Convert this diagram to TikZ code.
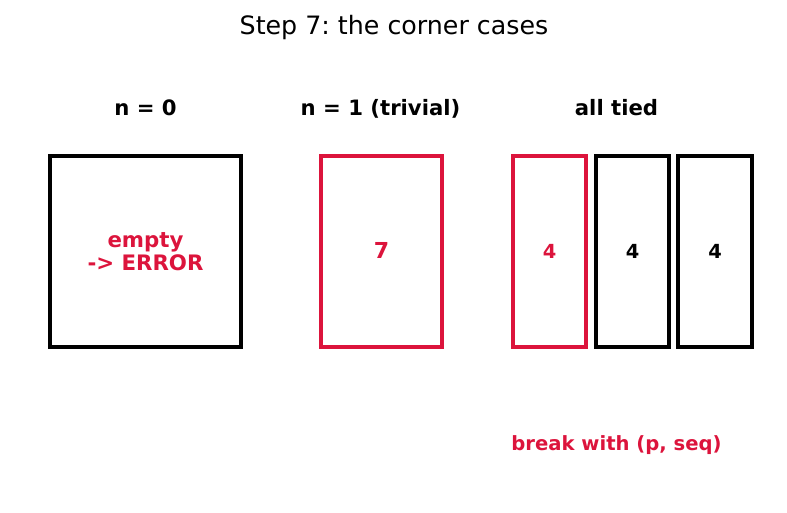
\documentclass[tikz,border=0pt]{standalone}
\usepackage{fontspec}
\setmainfont{DejaVu Sans}
\frenchspacing
\definecolor{crim}{RGB}{220,20,60}
\begin{document}
\begin{tikzpicture}[x=1pt,y=-1pt,
  box/.style={draw=black,line width=4.8pt,inner sep=0pt,minimum height=191pt,font=\fontsize{21.3}{23}\selectfont\bfseries},
  redbox/.style={box,draw=crim,text=crim},
  lbl/.style={anchor=base,inner sep=0pt,font=\fontsize{21.2}{25}\selectfont\bfseries},
  seven/.style={font=\fontsize{22}{24}\selectfont\bfseries},
  four/.style={font=\fontsize{19.4}{22}\selectfont\bfseries}]
\useasboundingbox (0,0) rectangle (787,512);
\node[anchor=base,inner sep=0pt,font=\fontsize{25.3}{30}\selectfont] (title) at (394,34) {Step 7: the corner cases};
\node[lbl] (l0) at (145.5,115) {n = 0};
\node[lbl] (l1) at (380.5,115) {n = 1 (trivial)};
\node[lbl] (l2) at (616.5,115) {all tied};
\node[box,minimum width=191pt,text=crim,align=center] (b0) at (145.5,251.5) {empty\\-> ERROR};
\node[redbox,minimum width=121pt,seven] (b1) at (381.5,251.5) {\raisebox{1.5pt}{7}};
\node[redbox,minimum width=73pt,four] (b2) at (549.5,251.5) {\raisebox{1pt}{4}};
\node[box,minimum width=73pt,four] (b3) at (632.5,251.5) {\raisebox{1pt}{4}};
\node[box,minimum width=74pt,four] (b4) at (715,251.5) {\raisebox{1pt}{4}};
\node[anchor=base,inner sep=0pt,text=crim,font=\fontsize{19.6}{23}\selectfont\bfseries] (br) at (616.5,450) {break with (p, seq)};
\end{tikzpicture}
\end{document}
